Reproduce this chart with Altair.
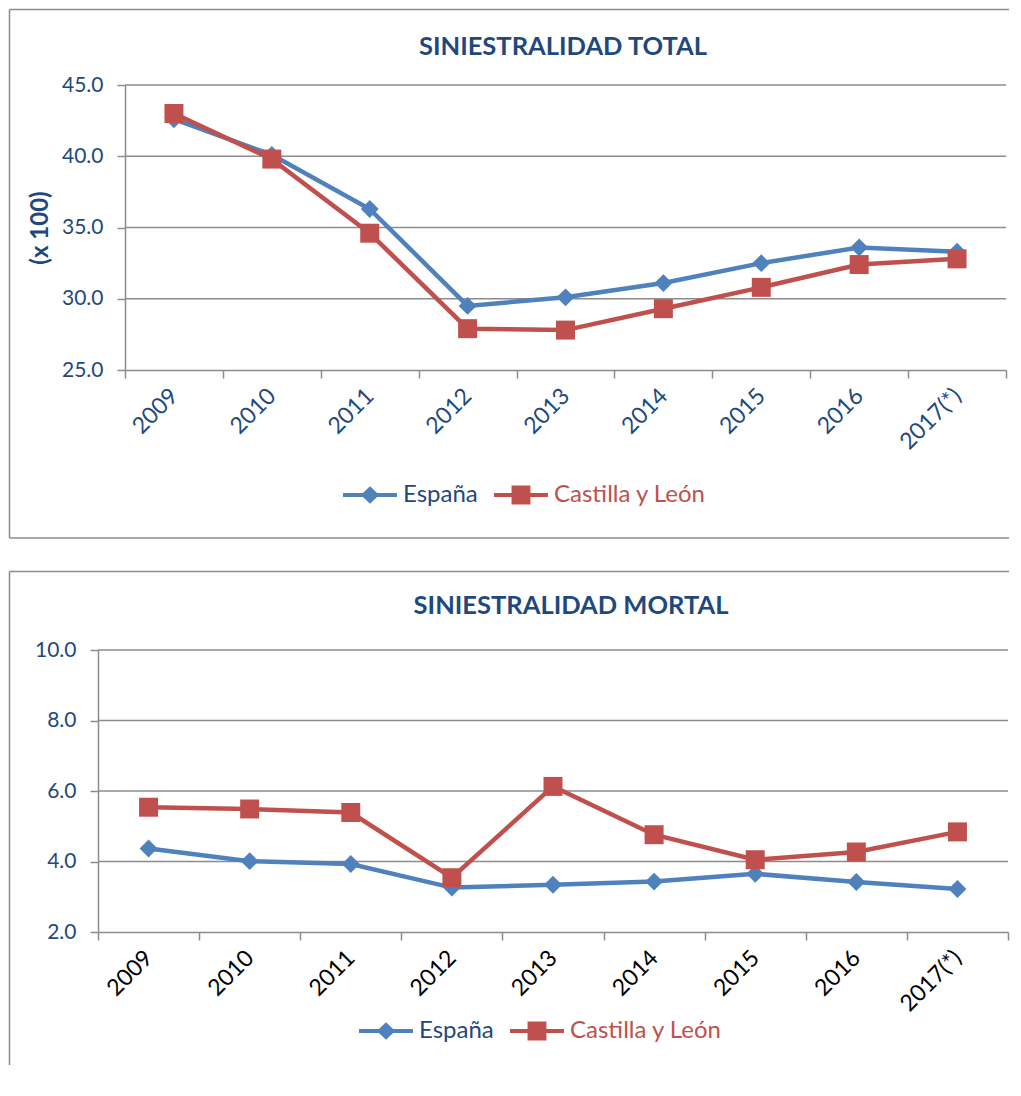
import altair as alt
import pandas as pd

years = ["2009", "2010", "2011", "2012", "2013", "2014", "2015", "2016", "2017(*)"]
series = ["España", "Castilla y León"]
colors = ["#4F81BD", "#C0504D"]

total_espana = [42.6, 40.1, 36.3, 29.5, 30.1, 31.1, 32.5, 33.6, 33.3]
total_cyl = [43.0, 39.8, 34.6, 27.9, 27.8, 29.3, 30.8, 32.4, 32.8]
total_ticks = [25, 30, 35, 40, 45]

mortal_espana = [4.37, 4.01, 3.93, 3.26, 3.34, 3.43, 3.65, 3.42, 3.22]
mortal_cyl = [5.54, 5.49, 5.39, 3.54, 6.13, 4.76, 4.05, 4.27, 4.84]
mortal_ticks = [2, 4, 6, 8, 10]

title_total = "SINIESTRALIDAD TOTAL"
title_mortal = "SINIESTRALIDAD MORTAL"
y_title_total = "(x 100)"

FONT = "Lato"
NAVY = "#1F497D"
GRID = "#8C8C8C"
FRAME = "#8C8C8C"

# legend symbols: a line segment with a diamond / a square on it
legend_shapes = [
    "M-1,-0.075H1V0.075H-1Z M0,-0.32L0.34,0L0,0.32L-0.34,0Z",
    "M-1,-0.075H1V0.075H-1Z M-0.35,-0.35H0.35V0.35H-0.35Z",
]


def panel(esp, cyl, ticks, title, ytitle, W, H, xs, xlab_color,
          fl, fr, ft, fb, close_bottom, tx, ty, lx, ly):
    df = pd.DataFrame({
        "year": years * 2,
        "serie": [series[0]] * len(years) + [series[1]] * len(years),
        "value": esp + cyl,
    })
    x = alt.X(
        "year:O", sort=years,
        scale=alt.Scale(type="band", paddingInner=0, paddingOuter=0,
                        range=[xs, W]),
        axis=alt.Axis(
            title=None, tickBand="extent", tickSize=8, tickWidth=1.5,
            tickColor=GRID, domainColor=GRID, domainWidth=1.5, grid=False,
            labelAngle=-45, labelAlign="right", labelBaseline="middle",
            labelPadding=14, labelFont=FONT, labelFontSize=23,
            labelColor=xlab_color,
        ),
    )
    yaxis = dict(
        values=ticks, format=".1f", tickSize=8, tickWidth=1.5, tickColor=GRID,
        domainColor=GRID, domainWidth=1.5, grid=False, offset=-xs,
        labelFont=FONT, labelFontSize=21, labelColor=NAVY, labelPadding=14,
    )
    if ytitle:
        yaxis.update(title=ytitle, titleFont=FONT, titleFontSize=24,
                     titleFontWeight="bold", titleColor=NAVY, titlePadding=9)
    else:
        yaxis.update(title=None)
    y = alt.Y("value:Q",
              scale=alt.Scale(domain=[ticks[0], ticks[-1]], nice=False, zero=False),
              axis=alt.Axis(**yaxis))
    cscale = alt.Scale(domain=series, range=colors)

    base = alt.Chart(df)
    one = pd.DataFrame({"t": [title]})

    layers = [
        alt.Chart(one).mark_rule(color=FRAME, strokeWidth=1.5).encode(
            x=alt.value(fl), x2=alt.value(fr), y=alt.value(ft)),
        alt.Chart(one).mark_rule(color=FRAME, strokeWidth=1.5).encode(
            x=alt.value(fl), y=alt.value(ft), y2=alt.value(fb)),
    ]
    if close_bottom:
        layers.append(alt.Chart(one).mark_rule(color=FRAME, strokeWidth=1.5).encode(
            x=alt.value(fl), x2=alt.value(fr), y=alt.value(fb)))
    layers.append(alt.Chart(one).mark_text(
        font=FONT, fontSize=25.5, fontWeight="bold", color=NAVY,
        align="center", baseline="middle").encode(
        text="t:N", x=alt.value(tx), y=alt.value(ty)))

    # horizontal gridlines at the tick values
    grid = alt.Chart(pd.DataFrame({"value": ticks[1:]})).mark_rule(
        color=GRID, strokeWidth=1.5).encode(
        y=y, x=alt.value(xs), x2=alt.value(W))
    layers.append(grid)

    leg = alt.Legend(
        orient="none", legendX=lx, legendY=ly, direction="horizontal",
        title=None, symbolSize=2916, symbolStrokeWidth=0, symbolOpacity=1,
        labelFont=FONT, labelFontSize=24, labelOffset=6, columnPadding=16,
        padding=0, labelLimit=300,
        labelColor=alt.ExprRef(expr="datum.label == 'España' ? '#1F497D' : '#C0504D'"),
    )
    legend_layer = base.transform_filter("false").mark_point(
        filled=True, opacity=1).encode(
        x=x, y=y,
        color=alt.Color("serie:N", scale=cscale, legend=leg),
        shape=alt.Shape("serie:N", scale=alt.Scale(domain=series, range=legend_shapes),
                        legend=leg),
    )
    color = alt.Color("serie:N", scale=cscale, legend=None)
    line = base.mark_line(strokeWidth=4.5).encode(x=x, y=y, color=color)
    pts_e = base.transform_filter(alt.datum.serie == series[0]).mark_point(
        shape="diamond", filled=True, size=320, opacity=1).encode(x=x, y=y, color=color)
    pts_c = base.transform_filter(alt.datum.serie == series[1]).mark_point(
        shape="square", filled=True, size=360, opacity=1).encode(x=x, y=y, color=color)

    layers += [legend_layer, line, pts_e, pts_c]
    return alt.layer(*layers).properties(width=W, height=H)


# both panels share the same origin (left edge of the lower plot);
# the upper plot starts 27 px further right
top = panel(total_espana, total_cyl, total_ticks, title_total, y_title_total,
            908, 285, 27, NAVY, -88.5, 911, -75.5, 453, True, 465, -38, 245, 383)

bottom = panel(mortal_espana, mortal_cyl, mortal_ticks, title_mortal, None,
               910, 282, 0, "#000000", -88.5, 911, -78.5, 415, False, 473, -44, 261, 354)

chart = alt.concat(top, bottom, columns=1, spacing=31).resolve_scale(
    color="independent", shape="independent"
).properties(padding=0, background="white").configure_view(stroke=None)

chart.save("out.html", embed_options={"renderer": "svg", "actions": False})
